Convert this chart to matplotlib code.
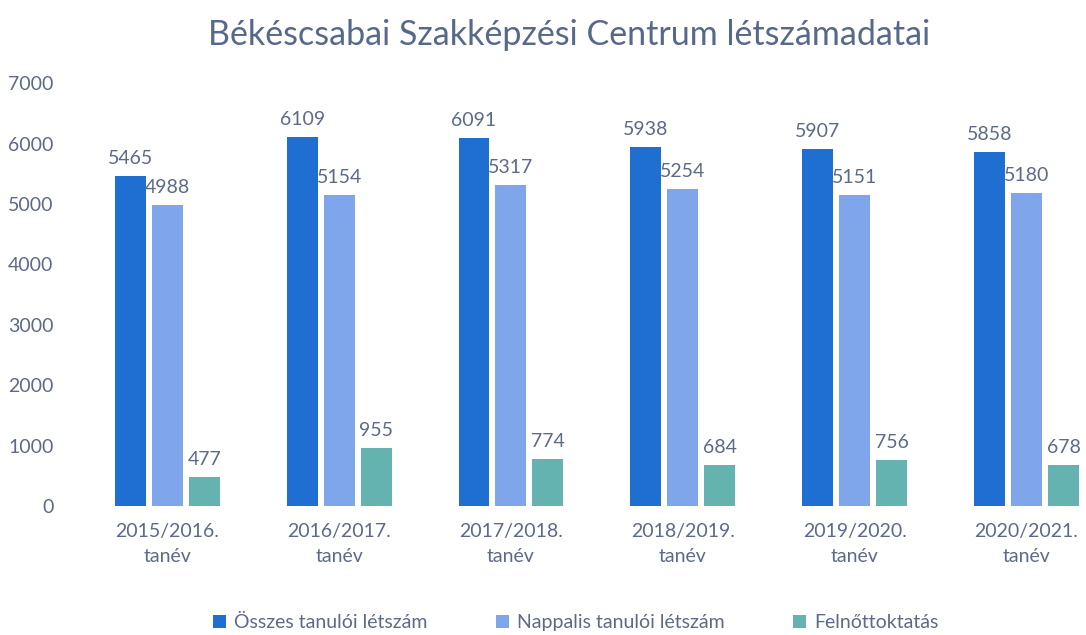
import numpy as np
import matplotlib.pyplot as plt

plt.rcParams["font.family"] = ["Lato", "DejaVu Sans"]

years = ["2015/2016.\ntanév", "2016/2017.\ntanév", "2017/2018.\ntanév",
         "2018/2019.\ntanév", "2019/2020.\ntanév", "2020/2021.\ntanév"]
osszes = [5465, 6109, 6091, 5938, 5907, 5858]
nappalis = [4988, 5154, 5317, 5254, 5151, 5180]
felnott = [477, 955, 774, 684, 756, 678]

series = [
    ("Összes tanulói létszám", osszes, "#1f6fd2"),
    ("Nappalis tanulói létszám", nappalis, "#7fa5ea"),
    ("Felnőttoktatás", felnott, "#64b3b0"),
]

fig = plt.figure(figsize=(10.86, 6.35), dpi=100)
ax = fig.add_axes([0.0875, 0.203, 0.91, 0.666])

x = np.arange(len(years))
w = 0.18
offsets = [-0.215, 0.0, 0.215]
txt = "#5d6a86"

for (name, vals, col), off in zip(series, offsets):
    bars = ax.bar(x + off, vals, w, color=col, label=name)
    for b, v in zip(bars, vals):
        ax.text(b.get_x() + b.get_width() / 2, v + 150, str(v),
                ha="center", va="bottom", fontsize=14, color=txt)

ax.set_ylim(0, 7000)
ax.set_xlim(-0.42, 5.33)
ax.set_yticks(range(0, 7001, 1000))
ax.set_xticks(x)
ax.set_xticklabels(years, linespacing=1.6)
ax.tick_params(axis="both", length=0, labelsize=14, colors=txt)
ax.tick_params(axis="y", pad=30)
ax.tick_params(axis="x", pad=12)
for s in ax.spines.values():
    s.set_visible(False)

fig.suptitle("Békéscsabai Szakképzési Centrum létszámadatai", x=0.524, y=0.97,
             fontsize=24.5, color="#56698a")
fig.legend(loc="lower center", bbox_to_anchor=(0.53, -0.022), ncol=3,
           frameon=False, fontsize=14, handlelength=0.7, handleheight=0.7,
           handletextpad=0.4, columnspacing=3.5, labelcolor=txt)

fig.savefig("out.png", dpi=100, facecolor="white")
